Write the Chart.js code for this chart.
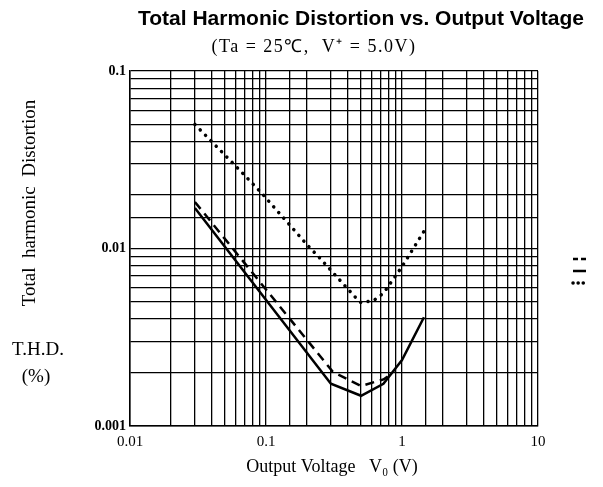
<!DOCTYPE html>
<html>
<head>
<meta charset="utf-8">
<script src="https://cdn.jsdelivr.net/npm/chart.js@4"></script>
<style>
  html, body { margin: 0; padding: 0; background: #fff; }
  #wrap { width: 603px; height: 487px; position: relative; }
</style>
</head>
<body>
<div id="wrap"><canvas id="js--chart--1"></canvas></div>
<script>
// values (log-log)
const solidX = [0.03, 0.3, 0.5, 0.73, 1.0, 1.45];
const solidY = [0.0169, 0.00173, 0.00148, 0.00173, 0.00235, 0.0041];

const dashedX = [0.03, 0.31, 0.5, 0.73, 0.8];
const dashedY = [0.0183, 0.00202, 0.00168, 0.00183, 0.00192];

const dottedX = [0.03, 0.0627, 0.093, 0.205, 0.25, 0.45, 0.5, 0.62, 0.73, 1.0, 1.45];
const dottedY = [0.05, 0.0281, 0.0205, 0.0103, 0.0088, 0.00535, 0.00495, 0.0051, 0.0056, 0.0079, 0.0125];

const xTickLabels = [0.01, 0.1, 1, 10];
const yTickLabels = [0.001, 0.01, 0.1];

function points(xs, ys) {
    return xs.map(function (x, i) { return { x: x, y: ys[i] }; });
}

function isLabel(list, v) {
    return list.some(function (t) { return Math.abs(t - v) / t < 1e-6; });
}

const data = {
    datasets: [
        {
            label: "dashed",
            data: points(dashedX, dashedY),
            borderColor: '#000',
            borderWidth: 2.5,
            borderDash: [9, 6],
        },
        {
            label: "solid",
            data: points(solidX, solidY),
            borderColor: '#000',
            borderWidth: 2.5,
        },
        {
            label: "dotted",
            data: points(dottedX, dottedY),
            borderColor: '#000',
            borderWidth: 3.5,
            borderDash: [0.1, 7.5],
            borderCapStyle: 'round',
        },
    ]
};

const legendDash = [[5, 3], [], [0.1, 5]];

// texts that sit around the plot
const textPlugin = {
    id: 'texts',
    afterDraw(chart) {
        const ctx = chart.ctx;
        const area = chart.chartArea;
        ctx.save();
        ctx.fillStyle = '#000';
        ctx.textBaseline = 'middle';

        ctx.font = 'bold 21px "Liberation Sans", Arial, sans-serif';
        ctx.textAlign = 'center';
        ctx.fillText('Total Harmonic Distortion vs. Output Voltage', 361, 19);

        ctx.font = '18px "Liberation Serif", "Times New Roman", serif';
        ctx.letterSpacing = '1.5px';
        ctx.fillText('(Ta = 25\u2103,  V\u207A = 5.0V)', 314, 47);
        ctx.letterSpacing = '0px';

        ctx.font = '18px "Liberation Serif", "Times New Roman", serif';
        ctx.fillText('Output Voltage   V\u2080 (V)', 332, 467);

        ctx.font = '19px "Liberation Serif", "Times New Roman", serif';
        ctx.fillText('T.H.D.', 38, 350);
        ctx.fillText('(%)', 36, 377);

        ctx.translate(30, 203);
        ctx.rotate(-Math.PI / 2);
        ctx.fillText('Total  harmonic  Distortion', 0, 0);
        ctx.restore();

        // cut-off legend samples on the right
        const lx = area.right + 35;
        const ys = [259, 271, 283];
        chart.data.datasets.forEach(function (ds, i) {
            ctx.save();
            ctx.strokeStyle = ds.borderColor;
            ctx.lineWidth = ds.borderWidth;
            ctx.setLineDash(legendDash[i]);
            ctx.lineCap = ds.borderCapStyle || 'butt';
            ctx.beginPath();
            ctx.moveTo(lx, ys[i]);
            ctx.lineTo(lx + 13, ys[i]);
            ctx.stroke();
            ctx.restore();
        });
    }
};

const config = {
    type: 'scatter',
    data: data,
    options: {
        responsive: false,
        animation: false,
        showLine: true,
        layout: { padding: { top: 71, right: 65, left: 0, bottom: 0 } },
        elements: {
            point: { radius: 0, hoverRadius: 0 },
            line: { tension: 0, fill: false },
        },
        plugins: {
            legend: { display: false },
            tooltip: { enabled: false },
        },
        scales: {
            x: {
                type: 'logarithmic',
                min: 0.01,
                max: 10,
                afterFit(scale) { scale.height = 61; },
                border: { color: '#000', width: 1.5 },
                grid: { color: '#000', lineWidth: 1.3, drawTicks: false },
                ticks: {
                    autoSkip: false,
                    maxRotation: 0,
                    padding: 7,
                    color: '#000',
                    font: { family: '"Liberation Serif", serif', size: 15 },
                    callback: function (v) { return isLabel(xTickLabels, v) ? String(v) : ''; },
                },
            },
            y: {
                type: 'logarithmic',
                min: 0.001,
                max: 0.1,
                afterFit(scale) { scale.width = 130; },
                border: { color: '#000', width: 1.5 },
                grid: { color: '#000', lineWidth: 1.3, drawTicks: false },
                ticks: {
                    autoSkip: false,
                    padding: 4,
                    color: '#000',
                    font: { family: '"Liberation Serif", serif', size: 14, weight: 'bold' },
                    callback: function (v) { return isLabel(yTickLabels, v) ? String(v) : ''; },
                },
            },
        },
    },
    plugins: [textPlugin],
};

const canvas = document.getElementById("js--chart--1");
canvas.width = 603;
canvas.height = 487;
new Chart(canvas, config);
</script>
</body>
</html>
